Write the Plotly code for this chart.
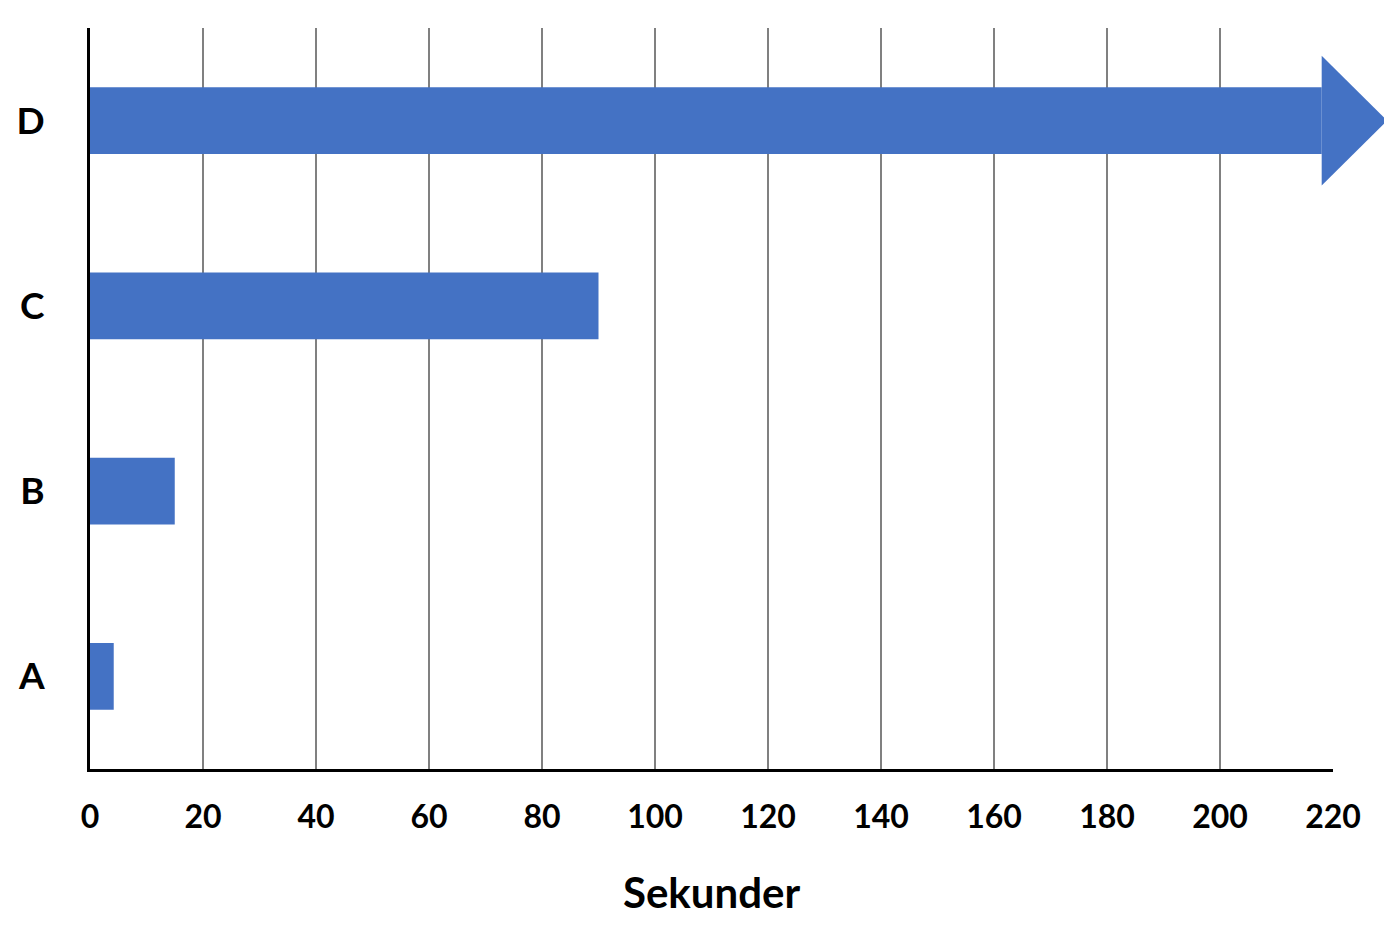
import plotly.graph_objects as go

categories = ["A", "B", "C", "D"]
values = [4.2, 15, 90, 218]        # D continues past the axis (arrow)
arrow_tip = 229.6                  # where the D arrow ends
tick_vals = list(range(0, 221, 20))
x_title = "Sekunder"

bar_color = "#4472C4"
bar_width = 0.36
head_half = 0.35
positions = list(range(len(categories)))
x_range = [0, 220]
y_range = [-0.5, len(categories) - 0.5]

fig = go.Figure()
fig.add_trace(go.Bar(
    y=positions, x=values, orientation="h",
    marker=dict(color=bar_color, line=dict(width=0)),
    width=bar_width, hovertext=categories, hoverinfo="x+text",
))


def px(v):
    return (v - x_range[0]) / (x_range[1] - x_range[0])


def py(v):
    return (v - y_range[0]) / (y_range[1] - y_range[0])


d_idx = categories.index("D")
path = "M {} {} L {} {} L {} {} Z".format(
    px(values[d_idx]), py(d_idx - head_half),
    px(arrow_tip), py(d_idx),
    px(values[d_idx]), py(d_idx + head_half),
)
fig.add_shape(type="path", path=path, xref="paper", yref="paper",
              fillcolor=bar_color, line=dict(width=0), layer="above")

fig.update_layout(
    width=1384, height=918,
    margin=dict(l=82, r=59, t=20, b=157),
    plot_bgcolor="white", paper_bgcolor="white",
    showlegend=False,
    font=dict(family="Lato", color="black"),
)
fig.update_xaxes(
    range=x_range, tickvals=tick_vals,
    showgrid=True, gridcolor="#808080", gridwidth=2,
    zeroline=False, automargin=False,
    showline=True, linecolor="black", linewidth=3,
    ticks="", ticklabelstandoff=18,
    tickfont=dict(size=32, weight="bold"),
    title=dict(text=x_title, font=dict(size=42, weight="bold"), standoff=45),
)
fig.update_yaxes(
    range=y_range, tickvals=positions, ticktext=categories,
    showgrid=False, zeroline=False, automargin=False,
    showline=True, linecolor="black", linewidth=3,
    ticks="", ticklabelstandoff=35,
    tickfont=dict(size=37, weight="bold"),
)

fig.write_html("out.html")
